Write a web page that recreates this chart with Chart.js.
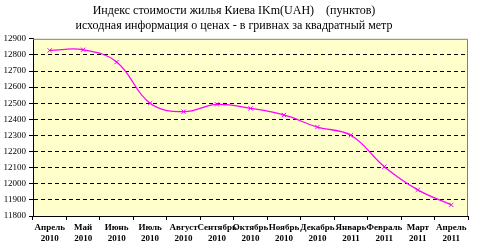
<!DOCTYPE html>
<html><head><meta charset="utf-8">
<script src="https://cdn.jsdelivr.net/npm/chart.js@4/dist/chart.umd.min.js"></script>
<style>html,body{margin:0;padding:0;background:#fff}#w{width:480px;height:247px}</style>
</head><body><div id="w"><canvas id="c"></canvas></div>
<script>
const months = ['Апрель','Май','Июнь','Июль','Август','Сентябрь','Октябрь','Ноябрь','Декабрь','Январь','Февраль','Март','Апрель'];
const years = ['2010','2010','2010','2010','2010','2010','2010','2010','2010','2011','2011','2011','2011'];
const indexValues = [12828,12832,12756,12500,12448,12493,12468,12427,12352,12301,12106,11962,11869];
const titleLines = ['Индекс стоимости жилья Киева IKm(UAH)    (пунктов)','исходная информация о ценах - в гривнах за квадратный метр'];
const yMin = 11800, yMax = 12900, yStep = 100;

const labels = months.map((m,i)=>[m, years[i]]);
const bgPlugin = {
  id:'bg',
  beforeDraw(chart){
    const {ctx, chartArea:a} = chart;
    ctx.save();
    ctx.fillStyle = '#FFFFCC';
    ctx.fillRect(a.left, a.top, a.right-a.left, a.bottom-a.top);
    ctx.restore();
  },
  afterDatasetsDraw(chart){
    const {ctx, chartArea:a} = chart;
    ctx.save();
    ctx.strokeStyle = '#808080';
    ctx.lineWidth = 1;
    ctx.setLineDash([]);
    ctx.beginPath();
    ctx.moveTo(a.left, a.top+0.5);
    ctx.lineTo(a.right-0.5, a.top+0.5);
    ctx.lineTo(a.right-0.5, a.bottom);
    ctx.stroke();
    ctx.restore();
  }
};
new Chart(document.getElementById('c'), {
  type:'line',
  data:{labels, datasets:[{
    data:indexValues,
    borderColor:'#FF00FF', borderWidth:1.3,
    tension:0.4,
    pointStyle:'crossRot', pointRadius:3, pointBorderColor:'#FF00FF', pointBorderWidth:1,
    fill:false
  }]},
  options:{
    responsive:true, maintainAspectRatio:false, animation:false,
    layout:{padding:{left:0,right:12,top:0,bottom:0}},
    plugins:{
      legend:{display:false}, tooltip:{enabled:false},
      title:{display:true, text:titleLines, color:'#000',
        font:{family:'Liberation Serif', size:12, weight:'normal', lineHeight:1.2},
        padding:{top:4,bottom:6}}
    },
    scales:{
      x:{
        offset:true,
        grid:{display:true, drawOnChartArea:false, drawTicks:true, tickLength:4, offset:true, color:'#000'},
        border:{display:true, color:'#000'},
        ticks:{color:'#000', maxRotation:0, autoSkip:false, padding:2,
          font:{family:'Liberation Serif', size:9, weight:'bold', lineHeight:1.2}},
        afterFit(s){ s.height = 31; }
      },
      y:{
        min:yMin, max:yMax,
        ticks:{stepSize:yStep, color:'#000', padding:3,
          callback:(v)=>String(v),
          font:{family:'Liberation Serif', size:9}},
        grid:{color:(c)=> (c.tick && (c.tick.value===yMax || c.tick.value===yMin)) ? 'rgba(0,0,0,0)' : '#000',
          tickColor:'#000', tickBorderDash:[], tickLength:4, lineWidth:1},
        border:{display:true, color:'#000', dash:[4,3]},
        afterFit(s){ s.width = 33; }
      }
    }
  },
  plugins:[bgPlugin]
});
</script></body></html>
